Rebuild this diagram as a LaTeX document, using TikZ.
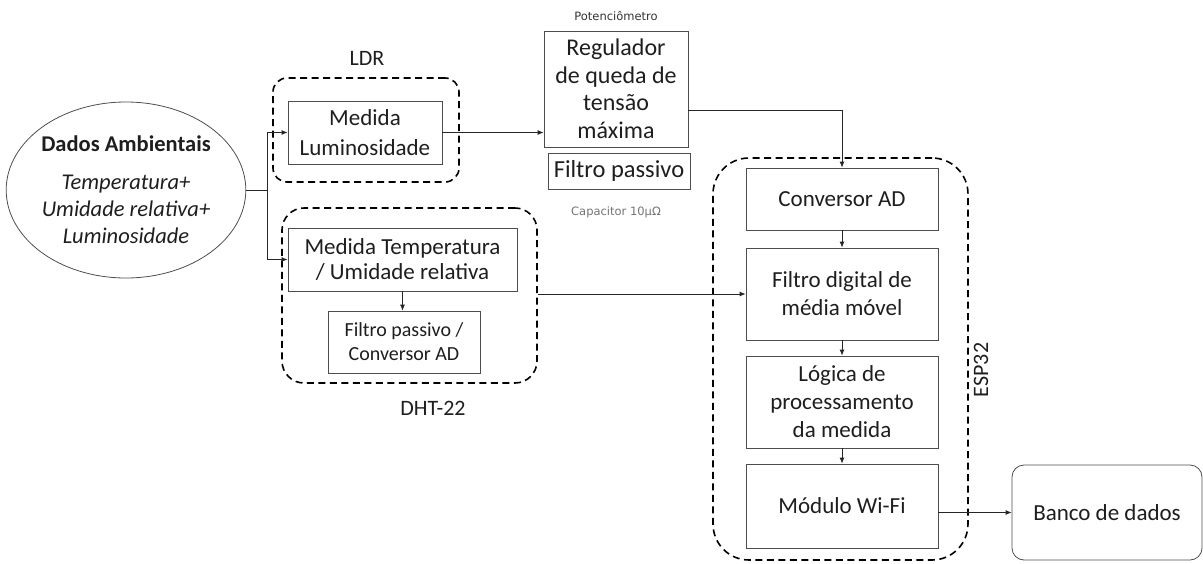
\documentclass[tikz,border=0pt]{standalone}
\usepackage{fontspec}
\setmainfont{Carlito}
\newfontfamily\smallsans{DejaVu Sans}
\usetikzlibrary{arrows.meta,shapes.geometric}
\definecolor{edge}{HTML}{4D4D4D}
\definecolor{txt}{HTML}{1E1E1E}
\begin{document}
\begin{tikzpicture}[x=1pt,y=-1pt,
  box/.style={draw=edge,line width=0.8pt,align=center,inner sep=0pt,text=txt,font=\fontsize{23}{28}\selectfont},
  dashbox/.style={draw=black,line width=1.6pt,dash pattern=on 7pt off 4.5pt,inner sep=0pt},
  lbl/.style={text=txt,font=\fontsize{22}{26}\selectfont,inner sep=0pt},
  arr/.style={draw=black!85,line width=0.8pt,-{Latex[length=6pt,width=5pt]}},
  ln/.style={draw=black!85,line width=0.8pt}]
\useasboundingbox (0,0) rectangle (1203,563);

% source ellipse
\node[ellipse,draw=edge,line width=0.8pt,minimum width=234,minimum height=176,inner sep=0pt,align=center,text=txt,font=\fontsize{22.5}{27}\selectfont] (amb) at (126,190)
  {\textbf{Dados Ambientais}\\[11pt]
   \textit{Temperatura+}\\
   \textit{Umidade relativa+}\\
   \textit{Luminosidade}};

% LDR group
\node[dashbox,rounded corners=14pt,minimum width=186,minimum height=104] (ldr) at (366,130) {};
\node[lbl] (ldrl) at (367,58) {LDR};
\node[box,minimum width=154,minimum height=63,font=\fontsize{23}{30}\selectfont] (lum) at (365,132.5) {Medida\\Luminosidade};

% regulator
\node[box,minimum width=144,minimum height=116,font=\fontsize{24}{27.5}\selectfont] (reg) at (616,89) {Regulador\\de queda de\\tensão\\máxima};
\node[text=black!80,font=\smallsans\fontsize{11.5}{13}\selectfont,inner sep=0pt] (pot) at (616,16) {Potenciômetro};
\node[box,minimum width=142,minimum height=36,font=\fontsize{24.5}{26}\selectfont] (fp1) at (619,171) {Filtro passivo};
\node[text=black!55,font=\smallsans\fontsize{11.5}{14}\selectfont,inner sep=0pt] (cap) at (616,212) {Capacitor 10μΩ};

% DHT-22 group
\node[dashbox,rounded corners=22pt,minimum width=255,minimum height=175] (dht) at (409.5,295.5) {};
\node[lbl] (dhtl) at (433,408) {DHT-22};
\node[box,minimum width=229,minimum height=63,font=\fontsize{23}{25}\selectfont] (temp) at (402.5,259.5) {Medida Temperatura\\/ Umidade relativa};
\node[box,minimum width=152,minimum height=62,font=\fontsize{20}{24}\selectfont] (fp2) at (404,342) {Filtro passivo /\\Conversor AD};

% ESP32 group
\node[dashbox,rounded corners=36pt,minimum width=255,minimum height=402] (esp) at (840.5,359) {};
\node[lbl,rotate=90] (espl) at (981,370) {ESP32};
\node[box,minimum width=192,minimum height=62] (conv) at (842,199) {Conversor AD};
\node[box,minimum width=192,minimum height=92] (fdig) at (842,294) {Filtro digital de\\média móvel};
\node[box,minimum width=192,minimum height=92] (log) at (842,402) {Lógica de\\processamento\\da medida};
\node[box,minimum width=192,minimum height=84] (wifi) at (842,506) {Módulo Wi-Fi};

% database
\node[box,rounded corners=12pt,minimum width=190,minimum height=95] (banco) at (1107,512.5) {Banco de dados};

% connectors
\coordinate (split) at (267,190);
\draw[ln] (amb.east) -- (split);
\draw[arr] (split) |- (lum.west);
\draw[arr] (split) |- (temp.west);
\draw[arr] (lum.east) -- (lum.east -| reg.west);
\draw[arr] ([yshift=-21pt]reg.east) -| (conv.north);
\draw[arr] (temp.south) -- (temp.south |- fp2.north);
\draw[arr] (dht.east |- fdig.west) -- (fdig.west);
\draw[arr] (conv.south) -- (fdig.north);
\draw[arr] (fdig.south) -- (log.north);
\draw[arr] (log.south) -- (wifi.north);
\draw[arr] (banco.west -| wifi.east) -- (banco.west);
\end{tikzpicture}
\end{document}
